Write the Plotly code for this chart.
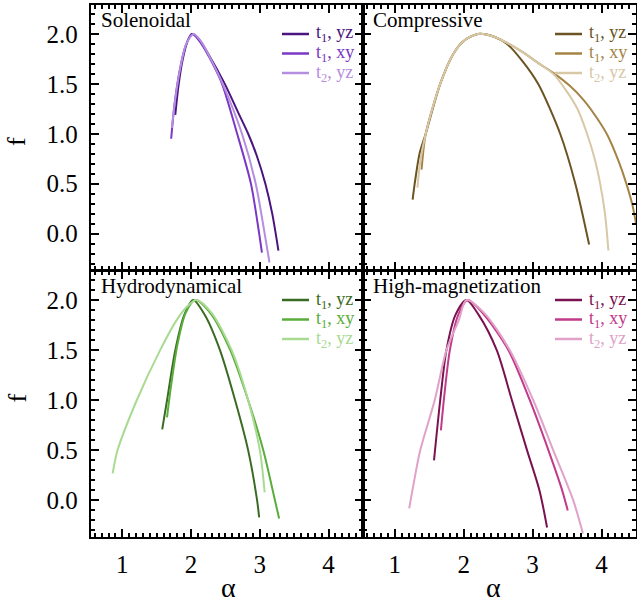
import plotly.graph_objects as go

# ---------------- data (alpha, f) ----------------
panels = ["Solenoidal", "Compressive", "Hydrodynamical", "High-magnetization"]
series_names = ["t<sub>1</sub>, yz", "t<sub>1</sub>, xy", "t<sub>2</sub>, yz"]

sol_t1yz_a = [1.77, 1.82, 1.88, 1.95, 2.01, 2.1, 2.25, 2.49, 2.68, 2.83, 2.96, 3.08, 3.18, 3.27]
sol_t1yz_f = [1.19, 1.5, 1.75, 1.93, 2.0, 1.96, 1.8, 1.5, 1.22, 1.0, 0.77, 0.5, 0.2, -0.17]
sol_t1xy_a = [1.71, 1.76, 1.83, 1.92, 2.02, 2.15, 2.3, 2.45, 2.67, 2.87, 2.99, 3.03]
sol_t1xy_f = [0.95, 1.3, 1.62, 1.88, 2.0, 1.9, 1.72, 1.5, 1.0, 0.5, 0.0, -0.19]
sol_t2yz_a = [1.72, 1.77, 1.84, 1.93, 2.04, 2.15, 2.3, 2.46, 2.74, 2.94, 3.07, 3.14]
sol_t2yz_f = [1.06, 1.35, 1.65, 1.9, 2.0, 1.92, 1.73, 1.5, 1.0, 0.5, 0.0, -0.29]

com_t1yz_a = [1.26, 1.29, 1.36, 1.45, 1.66, 1.85, 2.0, 2.21, 2.45, 2.63, 2.85, 3.08, 3.4, 3.62, 3.82]
com_t1yz_f = [0.34, 0.5, 0.8, 1.0, 1.5, 1.8, 1.93, 2.0, 1.97, 1.9, 1.73, 1.5, 1.0, 0.5, -0.11]
com_t1xy_a = [1.39, 1.45, 1.66, 1.85, 2.0, 2.21, 2.45, 2.63, 2.85, 3.1, 3.3, 3.54, 3.75, 3.95, 4.09, 4.25, 4.36, 4.45, 4.5]
com_t1xy_f = [0.64, 1.0, 1.5, 1.8, 1.93, 2.0, 1.97, 1.91, 1.82, 1.7, 1.61, 1.48, 1.33, 1.14, 0.98, 0.72, 0.5, 0.28, 0.1]
com_t2yz_a = [1.33, 1.37, 1.45, 1.66, 1.85, 2.0, 2.21, 2.45, 2.63, 2.85, 3.1, 3.3, 3.5, 3.65, 3.79, 3.9, 3.98, 4.05, 4.1]
com_t2yz_f = [0.46, 0.72, 1.0, 1.5, 1.8, 1.93, 2.0, 1.97, 1.91, 1.82, 1.7, 1.6, 1.42, 1.25, 1.0, 0.75, 0.5, 0.2, -0.17]

hyd_t1yz_a = [1.58, 1.65, 1.77, 1.9, 2.03, 2.2, 2.42, 2.64, 2.83, 2.96, 2.99]
hyd_t1yz_f = [0.71, 1.0, 1.5, 1.85, 2.0, 1.85, 1.5, 1.0, 0.5, 0.0, -0.17]
hyd_t1xy_a = [1.65, 1.7, 1.8, 1.92, 2.06, 2.28, 2.57, 2.83, 3.05, 3.22, 3.28]
hyd_t1xy_f = [0.83, 1.1, 1.55, 1.87, 2.0, 1.87, 1.5, 1.0, 0.5, 0.0, -0.18]
hyd_t2yz_a = [0.86, 0.93, 1.21, 1.55, 1.79, 1.95, 2.08, 2.3, 2.59, 2.83, 3.0, 3.07]
hyd_t2yz_f = [0.27, 0.5, 1.0, 1.5, 1.8, 1.94, 2.0, 1.87, 1.5, 1.0, 0.5, 0.08]

mag_t1yz_a = [1.57, 1.66, 1.75, 1.88, 2.04, 2.22, 2.48, 2.7, 2.92, 3.1, 3.21]
mag_t1yz_f = [0.4, 1.0, 1.5, 1.85, 2.0, 1.85, 1.5, 1.0, 0.5, 0.1, -0.27]
mag_t1xy_a = [1.67, 1.72, 1.8, 1.92, 2.06, 2.3, 2.65, 2.96, 3.23, 3.42, 3.51]
mag_t1xy_f = [0.7, 1.05, 1.5, 1.85, 2.0, 1.85, 1.5, 1.0, 0.5, 0.12, -0.1]
mag_t2yz_a = [1.21, 1.27, 1.37, 1.58, 1.75, 1.93, 2.04, 2.3, 2.67, 3.01, 3.3, 3.59, 3.73]
mag_t2yz_f = [-0.08, 0.15, 0.5, 1.0, 1.5, 1.8, 2.0, 1.87, 1.5, 1.0, 0.5, 0.0, -0.33]

data = [
    [(sol_t1yz_a, sol_t1yz_f), (sol_t1xy_a, sol_t1xy_f), (sol_t2yz_a, sol_t2yz_f)],
    [(com_t1yz_a, com_t1yz_f), (com_t1xy_a, com_t1xy_f), (com_t2yz_a, com_t2yz_f)],
    [(hyd_t1yz_a, hyd_t1yz_f), (hyd_t1xy_a, hyd_t1xy_f), (hyd_t2yz_a, hyd_t2yz_f)],
    [(mag_t1yz_a, mag_t1yz_f), (mag_t1xy_a, mag_t1xy_f), (mag_t2yz_a, mag_t2yz_f)],
]
colors = [
    ["#4a1580", "#7a38c4", "#b58ee0"],
    ["#6b5323", "#a48446", "#d8c8a6"],
    ["#3a6b24", "#5aad3a", "#a8da92"],
    ["#7a1250", "#c23a8a", "#e0a2c8"],
]

x_range = [0.54, 4.5]
y_range = [-0.365, 2.29]

# ---------------- layout geometry (pixels) ----------------
W, H = 637, 605
xpix = [[90.7, 363], [363, 636]]      # left/right edges of the two columns
ypix = [[5, 270], [271, 537]]         # top/bottom edges of the two rows
xdom = [[a / W, b / W] for a, b in xpix]
ydom = [[1 - b / H, 1 - a / H] for a, b in ypix]
FF = "Liberation Serif"

def px(x):
    return x / W

def py(y):
    return 1 - y / H

fig = go.Figure()
ax_names = ["", "2", "3", "4"]
for p in range(4):
    row, col = p // 2, p % 2
    xa = "x" + ax_names[p]
    ya = "y" + ax_names[p]
    for s in range(3):
        a, f = data[p][s]
        c = colors[p][s]
        fig.add_trace(go.Scatter(
            x=a, y=f, mode="lines", xaxis=xa, yaxis=ya,
            line=dict(color=c, width=2, shape="spline", smoothing=0.8),
            name=series_names[s], showlegend=False, hoverinfo="skip",
        ))
    common = dict(
        showline=True, linewidth=2, linecolor="black", mirror="allticks",
        ticks="inside", ticklen=8, tickwidth=2, tickcolor="black",
        showgrid=False, zeroline=False, tickmode="linear", tick0=0,
        minor=dict(ticks="inside", ticklen=4, tickwidth=1.5, tickcolor="black",
                   tickmode="linear", tick0=0, dtick=0.1, showgrid=False),
        tickfont=dict(family=FF, size=25, color="black"),
    )
    xaxis = dict(common, domain=xdom[col], range=x_range, dtick=1,
                 showticklabels=(row == 1), anchor=ya, ticklabelstandoff=4)
    yaxis = dict(common, domain=ydom[row], range=y_range, dtick=0.5,
                 tickformat=".1f", showticklabels=(col == 0), anchor=xa, ticklabelstandoff=6)
    fig.update_layout(**{"xaxis" + ax_names[p]: xaxis, "yaxis" + ax_names[p]: yaxis})

    # panel title
    left, right = xpix[col]
    top = ypix[row][0]
    fig.add_annotation(
        text=panels[p], xref="paper", yref="paper",
        x=px(left + 8), y=py(top + 1),
        xanchor="left", yanchor="top", showarrow=False,
        font=dict(family=FF, size=21, color="black"),
    )
    # legend (key line + coloured label) in the top-right corner
    for s in range(3):
        yrow = top + 29 + 19.5 * s
        c = colors[p][s]
        fig.add_shape(type="line", xref="paper", yref="paper",
                      x0=px(right - 81), x1=px(right - 54), y0=py(yrow), y1=py(yrow),
                      line=dict(color=c, width=2.5))
        fig.add_annotation(
            text=series_names[s], xref="paper", yref="paper",
            x=px(right - 49), y=py(yrow), xanchor="left", yanchor="middle",
            showarrow=False, font=dict(family=FF, size=18, color=c),
        )

for yc in [135, 398]:
    fig.add_annotation(text="f", xref="paper", yref="paper", x=0, y=py(yc),
                       xanchor="left", showarrow=False, textangle=-90,
                       font=dict(family=FF, size=26, color="black"))
for xc in [228, 503]:
    fig.add_annotation(text="α", xref="paper", yref="paper", x=px(xc), y=0,
                       yanchor="bottom", showarrow=False,
                       font=dict(family=FF, size=28, color="black"))

fig.update_layout(
    width=W, height=H, margin=dict(l=0, r=0, t=0, b=0, autoexpand=False),
    paper_bgcolor="white", plot_bgcolor="white",
    font=dict(family=FF),
)
fig.write_html("out.html", config={"displayModeBar": False},
               post_script="document.body.style.margin='0';document.body.style.padding='0';")
